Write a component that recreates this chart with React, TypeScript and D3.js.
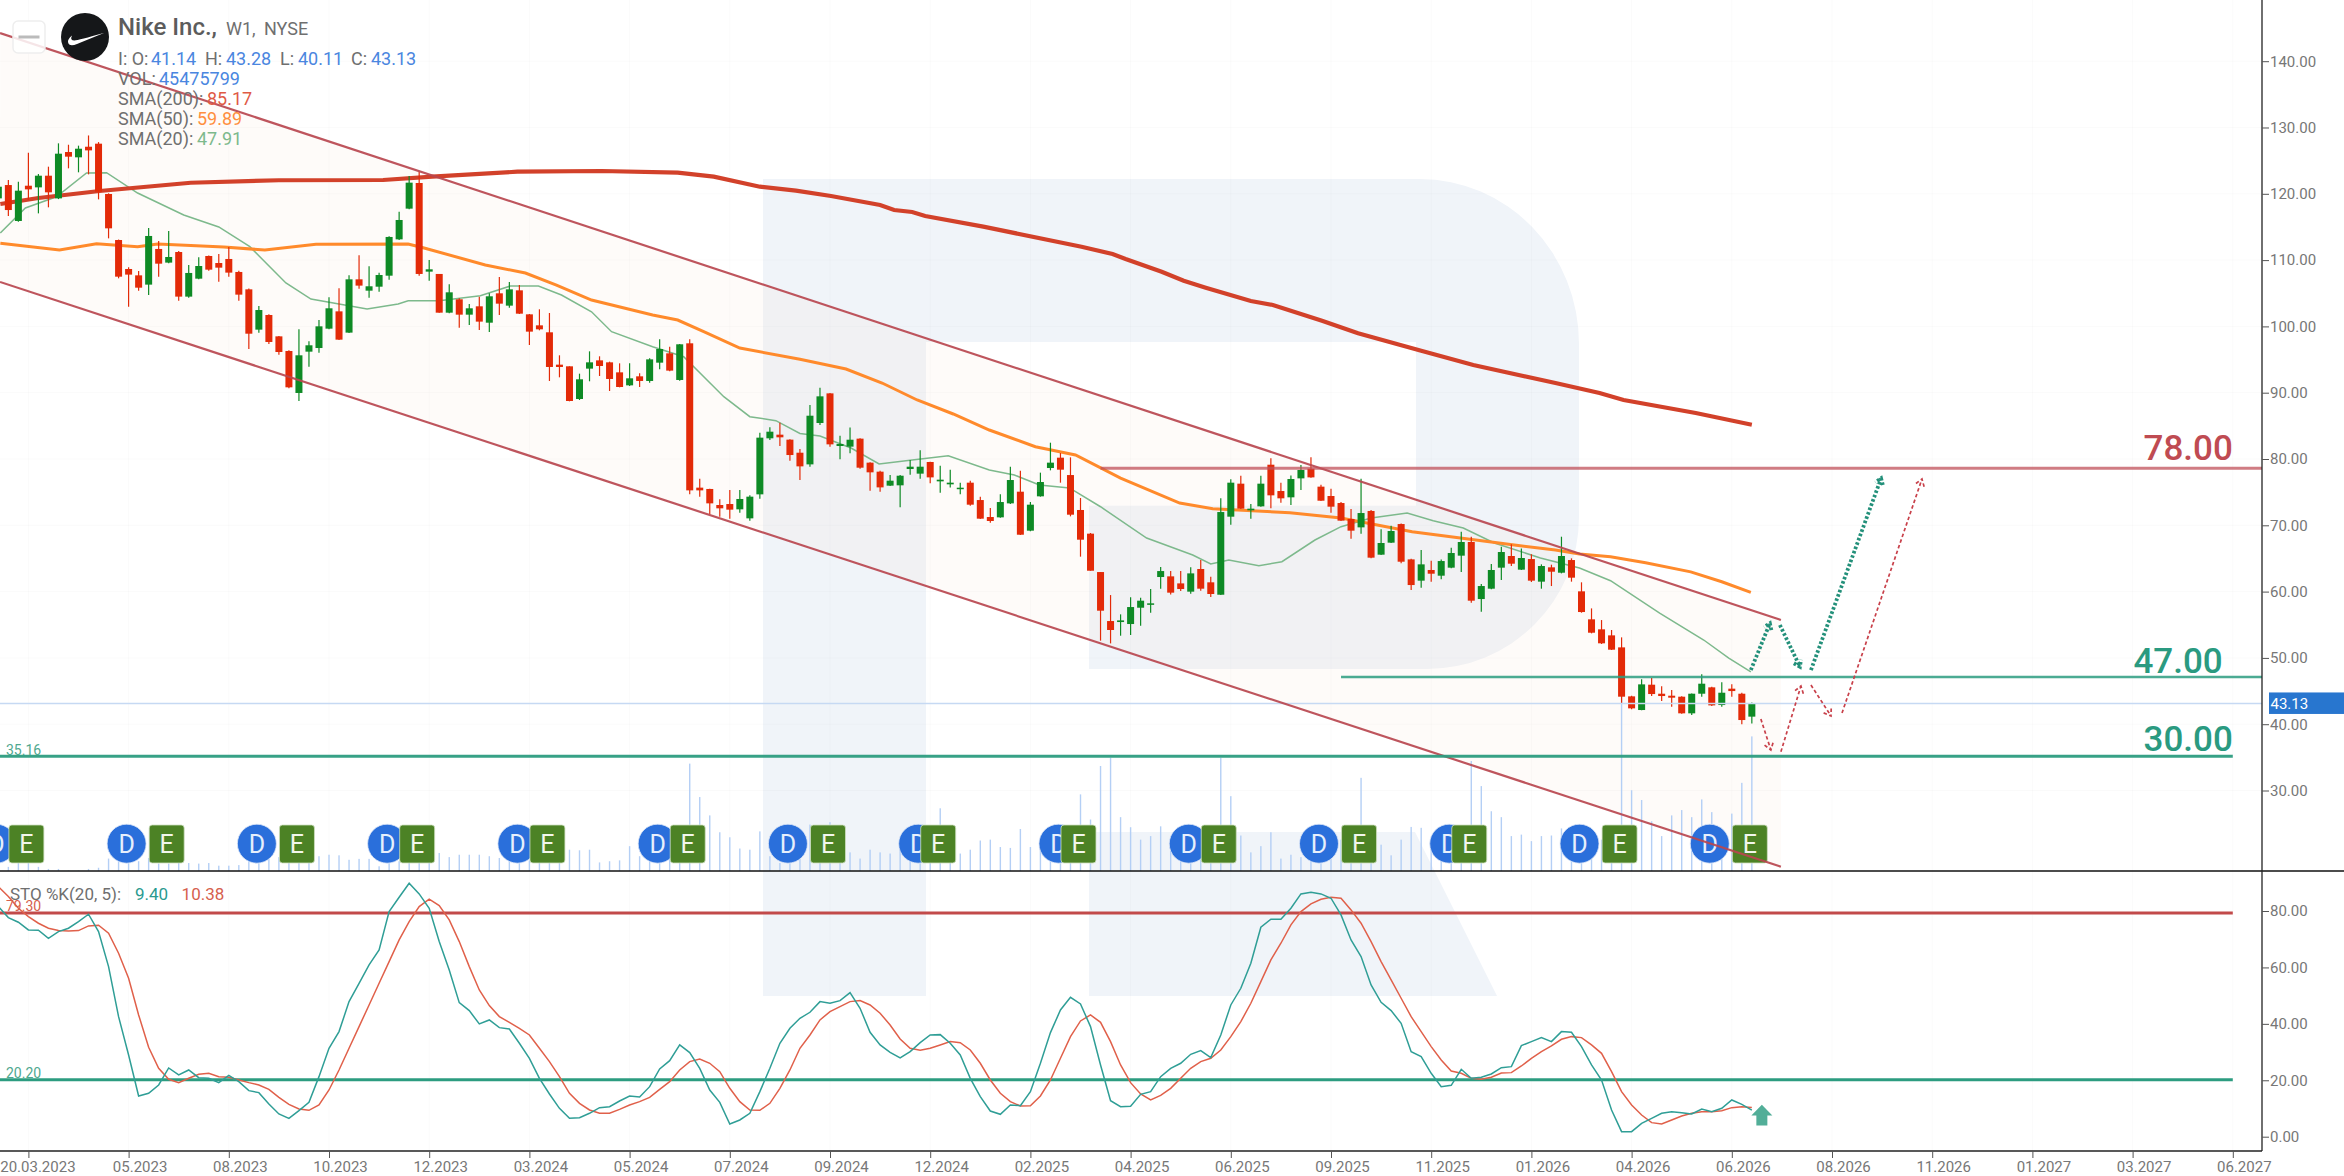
import React, { useEffect, useRef } from 'react';
import * as d3 from 'd3';

// first candle in the arrays sits three bars left of the 20.03.2023 tick
const firstBar = -3;

const opens = [
  119.31,121.32,115.9,121.22,120.97,122.73,119.31,126.3,125.5,127.1,127.56,119.97,113.03,
  108.66,107.7,106.3,111.68,109.62,111.22,104.49,107.2,110.62,109.56,110.17,108.21,105.59,99.51,101.72,98.5,96.29,89.96,96.19,96.74,99.66,102.27,99.06,107.1,105.39,105.99,107.65,113.13,117.76,121.63,
  108.26,107.91,102.07,104.09,101.77,103.03,100.56,104.99,103.13,105.44,
  101.82,100.16,99.11,94.23,93.98,89.05,93.63,94.88,94.58,93.07,
  91.11,92.47,91.77,94.53,95.94,91.92,97.45,75.68,75.48,73.06,
  73.21,72.41,71.05,74.67,83.12,83.67,82.92,80.95,79.19,85.43,
  89.9,81.96,81.86,83.07,79.45,78.09,75.98,76.03,78.49,77.79,
  79.55,76.63,76.18,75.57,76.43,73.81,71.25,71.2,73.31,75.07,
  69.19,74.37,78.64,80.2,77.58,72.31,68.74,62.95,55.56,55.41,
  55.11,57.57,58.03,62.2,62.3,61.24,59.99,63.41,61.4,59.53,
  71.3,76.28,72.26,72.86,79.14,75.17,74.22,77.08,78.54,75.83,
  74.42,73.36,70.95,69.69,72.16,65.57,67.38,70.19,64.86,61.65,
  63.26,62.4,63.61,65.42,67.48,58.88,60.44,63.61,65.37,63.31,
  64.91,61.5,63.66,62.85,64.76,60.04,55.82,54.31,53.4,51.59,
  44.2,42.14,45.96,44.6,44.3,44.15,41.64,44.6,45.56,42.89,
  45.36,44.6,41.14,
];

const highs = [
  122.08,122.08,121.83,126.2,122.98,124.09,127.61,127.4,127.26,128.8,127.8,120.07,113.1,
  108.91,108.36,114.84,112.88,114.39,111.37,109.26,110.42,110.7,110.92,111.98,108.41,105.7,103.08,101.82,98.55,96.39,99.56,97.75,100.97,104.39,105.74,107.7,110.72,109.06,108.11,113.59,117.31,122.69,123.34,
  110.02,107.91,106.35,104.24,103.38,104.49,104.99,107.45,106.7,106.25,
  101.87,102.58,102.02,95.64,93.98,92.87,96.24,95.49,94.68,94.43,
  94.43,92.92,95.18,98.05,96.94,97.35,98.05,77.03,75.53,73.92,
  75.33,75.33,74.52,83.97,84.78,85.48,82.97,81.5,88.14,90.76,
  89.95,83.52,84.77,83.12,79.5,78.24,77.59,77.59,79.85,81.31,
  79.6,78.99,78.39,76.43,76.73,74.32,72.61,74.67,78.84,78.24,
  73.51,77.94,82.46,80.9,80.25,74.12,68.84,62.95,59.48,56.57,
  59.13,59.08,60.39,63.71,63.1,63.1,63.66,64.76,62.25,74.07,
  76.93,77.48,73.21,77.48,80.1,76.43,77.53,79.09,80.25,76.13,
  75.52,73.51,72.46,77.03,72.31,69.39,69.94,70.29,64.96,66.27,
  64.66,64.86,66.62,69.04,68.28,61.14,64.16,66.77,67.13,66.52,
  65.62,64.11,64.06,68.28,65.02,61.4,57.47,55.71,54.21,53.1,
  44.3,46.77,46.97,45.71,45.16,44.2,44.65,47.52,45.66,46.31,
  46.01,44.75,43.28,
];

const lows = [
  118.56,116.65,115.8,119.06,117.05,117.96,119.2,123.84,123.24,122.93,119.16,113.28,107.25,
  102.98,105.39,104.74,107.5,109.51,103.88,104.34,107.1,108.41,106.75,107.5,103.88,96.59,99.06,97.35,95.74,90.66,88.75,93.93,96.04,99.56,97.95,99.01,105.69,104.34,105.24,107.05,113.03,117.66,107.65,
  106.9,102.07,101.97,99.81,100.21,99.46,99.16,101.72,102.83,101.87,
  97.2,99.41,91.77,92.32,88.7,88.9,91.72,92.52,90.26,90.81,
  91.01,90.86,91.51,93.53,93.22,91.82,74.67,74.32,71.7,71.3,
  71.0,71.9,70.7,74.02,82.87,81.96,79.75,76.83,78.84,85.13,
  81.86,79.95,80.85,78.54,75.22,75.07,75.93,72.71,77.64,77.03,
  76.33,74.92,75.72,74.67,72.96,70.95,70.39,71.15,73.21,68.53,
  69.09,74.32,78.29,76.43,71.35,65.27,63.15,52.6,52.19,53.35,
  53.45,54.86,56.82,60.44,59.58,60.09,59.68,60.14,59.18,59.48,
  70.09,72.46,71.0,72.81,72.56,73.41,73.06,75.32,77.18,73.66,
  71.9,70.65,67.98,68.74,65.02,65.52,67.33,64.26,60.24,60.59,
  61.5,61.85,63.51,62.95,58.33,56.97,60.34,61.75,63.86,63.26,
  61.45,60.44,60.84,62.75,61.5,56.82,53.7,52.1,51.19,43.15,
  42.24,42.09,44.25,43.5,42.64,41.59,41.39,44.15,42.74,42.64,
  44.15,39.98,40.11,
];

const closes = [
  121.07,117.55,120.47,120.67,122.73,120.22,126.05,125.6,126.8,126.55,120.32,114.79,107.5,
  107.81,105.84,113.64,109.46,110.47,104.49,108.06,109.11,108.56,108.86,108.11,104.79,98.9,102.47,97.65,96.14,90.81,95.64,97.15,100.01,102.73,98.0,107.1,106.15,106.05,107.75,113.49,116.05,121.68,107.91,
  108.61,102.07,105.14,101.77,102.73,100.72,104.54,103.43,105.59,101.92,
  99.21,99.56,93.88,93.88,88.75,92.02,94.58,94.03,92.07,90.86,
  92.17,91.77,95.03,96.59,93.33,97.3,75.27,75.27,73.31,72.56,
  72.36,73.97,74.32,83.22,84.12,83.27,80.6,78.89,86.53,89.45,
  82.21,82.26,82.91,78.69,77.99,75.72,76.73,77.48,78.84,78.84,
  77.23,76.88,76.43,75.67,73.11,71.0,70.65,73.51,76.83,68.58,
  73.11,76.53,79.45,78.39,71.6,67.83,63.15,57.12,54.21,55.66,
  57.67,58.63,58.23,63.1,59.84,60.39,62.75,60.44,59.64,72.0,
  76.43,72.51,72.51,76.28,74.52,74.07,76.98,78.34,77.23,73.71,
  72.81,70.7,69.19,71.85,65.12,67.33,69.14,64.51,60.99,64.11,
  62.7,64.61,65.82,67.48,58.63,60.84,63.26,65.97,64.21,65.07,
  61.65,63.86,63.0,65.37,62.1,56.92,53.8,52.2,51.24,44.15,
  42.39,46.01,44.55,44.25,44.0,41.64,44.6,46.11,42.84,44.75,
  45.0,40.63,43.13,
];

// volume in millions of shares
const volumes = [
  1.6,1.4,2.7,2.9,1.4,0.7,0.7,0.2,0.2,0.7,1.1,4.2,3.8,
  3.3,3.3,4.4,2.5,2.5,2.7,2.7,2.5,2.7,1.8,1.8,2.0,3.3,3.8,4.7,4.7,3.8,5.2,4.7,5.0,5.5,5.3,3.8,4.1,4.1,1.6,3.8,3.3,3.3,3.3,
  5.0,6.1,4.7,5.5,5.5,5.5,5.0,4.4,3.8,3.8,
  3.6,3.6,3.8,4.4,7.2,7.0,7.2,2.9,3.3,3.6,
  8.4,5.0,6.1,5.5,5.5,13.4,36.3,25.0,18.8,13.1,
  11.4,7.6,7.2,13.4,5.0,2.7,2.7,6.1,15.7,10.6,
  16.5,10.6,6.3,4.2,7.2,6.3,5.9,10.6,10.6,12.9,
  10.6,21.2,6.1,5.9,7.2,10.3,10.6,8.1,7.8,14.2,
  8.1,10.6,11.8,11.8,15.1,25.9,17.4,35.5,38.3,18.2,
  14.8,10.6,11.8,15.1,10.6,9.5,10.6,10.6,10.6,38.3,
  25.3,12.0,6.3,8.4,13.1,4.2,5.5,4.7,8.4,9.5,
  6.1,10.6,11.8,31.5,14.0,8.9,5.3,10.6,14.9,14.6,
  10.6,10.6,10.6,12.9,37.2,28.7,20.2,18.2,11.8,12.3,
  10.1,11.8,12.0,14.4,10.6,8.4,7.2,10.6,10.6,61.4,
  27.3,24.0,16.8,11.8,18.8,20.6,18.2,24.2,19.9,14.0,
  19.4,29.8,45.5,
];

const stoK = [
  81.57,77.67,76.01,73.3,73.18,70.34,72.71,73.89,76.25,78.85,72.71,60.29,42.56,
  28.97,14.43,15.38,18.33,24.36,21.88,23.65,20.93,20.7,19.16,21.76,19.52,16.32,15.62,11.6,8.05,6.51,9.23,12.18,21.29,31.34,37.25,47.88,54.38,60.89,66.2,79.8,84.88,89.84,86.06,
  80.98,69.16,59.11,47.53,44.69,39.96,41.38,38.66,38.19,33.11,
  27.79,20.7,15.14,10.06,6.51,6.75,8.29,10.3,10.65,12.66,
  14.43,14.08,17.74,24.01,26.96,32.52,29.8,24.24,16.56,12.18,
  4.5,5.92,8.29,15.97,24.24,33.11,38.43,41.97,44.1,47.88,
  47.29,48.24,51.07,45.52,37.01,32.52,29.92,27.91,30.15,33.34,
  36.06,36.18,33.11,28.97,20.7,14.2,9.11,7.93,11.24,11.0,
  15.97,26.02,36.89,44.93,49.42,47.06,39.02,25.43,12.78,10.65,
  10.77,15.02,15.97,21.29,24.24,26.02,29.21,30.51,28.03,36.06,
  46.7,52.61,61.48,74.24,77.08,77.08,80.98,86.06,86.65,86.06,
  84.53,78.62,69.75,63.84,53.79,47.65,44.69,40.2,30.15,28.38,
  22.47,17.74,18.22,23.89,20.7,21.05,22.23,24.48,24.83,32.28,
  33.7,35.12,33.7,37.25,37.01,31.93,25.43,20.11,9.47,1.79,
  1.79,4.74,6.51,8.29,8.88,8.52,8.05,9.82,8.88,10.06,
  13.02,11.47,9.4,
];

const stoD = [
  88.66,85.12,80.98,78.02,75.66,73.89,73.06,72.94,73.06,74.71,74.95,72.11,65.02,
  56.16,43.16,31.69,24.24,20.34,19.16,20.7,22.12,22.47,21.29,21.05,20.11,19.16,18.33,16.8,13.96,11.48,9.82,9.35,11.24,16.56,23.65,31.34,39.02,46.7,54.38,62.07,69.75,76.25,81.57,
  84.17,81.92,76.84,69.16,60.29,52.02,46.46,42.56,40.55,38.43,
  36.06,31.34,26.61,21.29,15.38,11.83,9.47,8.29,8.29,9.7,
  11.24,12.42,13.96,16.8,19.52,23.65,26.61,27.55,26.02,23.06,
  17.15,12.42,9.47,9.35,11.83,17.15,23.65,31.34,36.06,41.38,
  44.34,46.11,47.88,48.24,46.7,43.75,39.61,34.64,31.34,30.63,
  31.34,32.52,33.7,33.34,30.74,26.02,20.11,15.38,12.42,10.89,
  11.0,14.43,20.11,27.79,35.47,41.03,43.16,40.55,33.7,25.43,
  19.16,15.14,13.02,14.67,17.15,20.7,24.24,26.61,27.79,30.74,
  35.47,40.79,47.29,54.98,62.66,68.57,75.07,79.8,82.52,84.17,
  84.88,84.53,80.39,75.66,69.16,62.07,55.57,49.07,42.56,37.25,
  31.93,27.2,23.3,22.47,20.7,20.34,21.05,22.59,22.71,25.07,
  27.79,30.15,32.16,34.53,35.47,35.12,32.52,29.56,23.06,15.97,
  11.24,7.7,4.98,4.5,5.92,7.34,8.29,8.88,8.88,9.23,
  10.3,10.65,10.38,
];

// moving averages, read as [bar, value]
const sma200: [number, number][] = [
  [-2.8,118.46],[1,119.37],[7.1,120.42],[16.2,121.67],[25,122.04],[35.4,122.08],[40.3,122.58],[48.8,123.33],[57.2,123.44],[64.8,123.18],
  [68.4,122.58],[73,121.07],[76.6,120.47],[80.1,119.67],[85,118.31],[86.4,117.56],[88.2,117.25],[89.5,116.65],[95.3,115.04],[105.1,112.02],
  [108.2,110.92],[109.5,110.17],[113.1,108.25],[115.3,106.89],[117.5,105.84],[122,103.83],[124.2,103.23],[129.1,100.86],[132.7,98.98],[139,96.33],
  [144.2,94.18],[152.4,91.46],[156.8,89.95],[159.2,88.9],[166.4,86.94],[172,85.17],
];

const sma50: [number, number][] = [
  [-2.8,112.53],[3.1,111.52],[6.8,112.47],[10.9,112.02],[12.9,112.43],[19.5,111.97],[23.6,111.52],[28.7,112.38],[37.9,112.43],[39.4,111.87],
  [45.6,109.26],[49.6,108.05],[52.7,106.24],[56.2,103.98],[62.3,101.72],[64.8,100.96],[67.4,99.2],[71,96.74],[77,95.04],[81.6,93.57],
  [85.2,91.46],[88.7,88.9],[92.3,86.79],[95.9,84.37],[100.5,81.85],[104.5,80.6],[109,77.13],[114.9,73.36],[118.2,72.5],[125.9,71.9],
  [131,71.1],[138.1,69.03],[148.3,67.03],[152.4,66.27],[154.8,65.67],[157.9,65.27],[161.4,64.36],[165.9,62.98],[169,61.49],[171.9,59.89],
];

const sma20: [number, number][] = [
  [-2.8,114.09],[-0.3,117.86],[2.8,119.56],[5.8,123.14],[7.8,123.18],[10.9,120.12],[15.5,116.8],[19,115],[22.1,112.02],[25.7,106.55],
  [28.2,104.13],[33.8,102.62],[36.9,103.38],[37.9,103.88],[41,103.88],[45.1,104.63],[48.1,106.09],[50.9,106.09],[53.2,104.74],[56.2,102.2],
  [58.2,99.2],[62.3,96.94],[65.4,95.43],[69.4,89.4],[72,86.38],[74.6,85.78],[77,83.85],[79,83.47],[82.1,81.66],[84.9,79.25],
  [88.2,79.85],[91.8,80.5],[95.9,78.34],[98.4,77.59],[100.9,76.08],[103.9,75.63],[107,72.8],[111.6,68.08],[116.2,65.52],[118,64.16],
  [119.8,64.76],[122.8,63.91],[125.1,64.51],[128.4,67.78],[131,69.79],[134,71.1],[137.6,71.85],[140.2,70.69],[143.2,69.59],[146.3,67.33],
  [150.9,65.07],[154.8,63.56],[157.9,61.64],[162.8,56.77],[167.2,52.7],[169.7,49.98],[171.9,47.91],
];

// channel as [bar, upper, lower]
const channelEnds: [number, number, number][] = [
  [-2.83, 144.25, 106.7],
  [174.9, 55.72, 18.51],
];

// forecast arrows, each one [bar, price] pairs
const tealArrows: [number, number][][] = [
  [[171.9,48.17],[173.8,55.22]],
  [[174.8,54.96],[176.8,48.67]],
  [[177.9,48.17],[184.9,77.09]],
];
const redArrows: [number, number][][] = [
  [[172.9,40.78],[173.9,36.11]],
  [[174.9,35.85],[176.9,45.76]],
  [[177.9,45.91],[179.9,41.24]],
  [[181,41.69],[188.98,76.98]],
];

const dividendBars = [-3, 10, 23, 36, 49, 63, 76, 89, 103, 116, 129, 142, 155, 168];
const earningsBars = [0, 14, 27, 39, 52, 66, 80, 91, 105, 119, 133, 144, 159, 172];

const dateTicks = [
  '20.03.2023','05.2023','08.2023','10.2023','12.2023','03.2024','05.2024','07.2024','09.2024','12.2024','02.2025','04.2025',
  '06.2025','09.2025','11.2025','01.2026','04.2026','06.2026','08.2026','11.2026','01.2027','03.2027','06.2027',
];
const priceTicks = [30, 40, 50, 60, 70, 80, 90, 100, 110, 120, 130, 140];
const stoTicks = [0, 20, 40, 60, 80];

const W = 2344;
const H = 1176;
const axisX = 2262;
const paneBottom = 871;
const timeBottom = 1151;
const RED = '#e32a08';
const GREEN = '#0e8a25';
const font = 'Roboto, sans-serif';

const App: React.FC = () => {
  const ref = useRef<SVGSVGElement | null>(null);

  useEffect(() => {
    const svg = d3.select(ref.current);
    svg.selectAll('*').remove();

    const x = d3.scaleLinear().domain([0, 220]).range([28.4, 2232.8]);
    const y = d3.scaleLinear().domain([149.23, 17.86]).range([0, paneBottom]);
    const yVol = d3.scaleLinear().domain([0, 45.5]).range([paneBottom, 736.4]);
    const ySto = d3.scaleLinear().domain([0, 80]).range([1136.7, 911]);

    svg.append('rect').attr('width', W).attr('height', H).attr('fill', '#fff');

    // watermark
    svg.append('path')
      .attr('fill', '#f0f4f9')
      .attr('d', 'M763,179 H1420 A159,165 0 0 1 1579,344 V517 A152,152 0 0 1 1427,669 H1089 V505.7 H1416 V342 H926 V996 H763 Z M1089,832 H1415 L1497,996 H1089 Z');

    // faint grid
    const grid = svg.append('g').attr('stroke', 'rgba(0,0,0,0.018)').attr('stroke-width', 1);
    dateTicks.forEach((_, i) => {
      grid.append('line').attr('x1', x(i * 10)).attr('x2', x(i * 10)).attr('y1', 0).attr('y2', timeBottom);
    });
    priceTicks.forEach(v => {
      grid.append('line').attr('x1', 0).attr('x2', axisX).attr('y1', y(v)).attr('y2', y(v));
    });

    // channel fill
    svg.append('path')
      .datum(channelEnds)
      .attr('fill', 'rgba(245,228,215,0.14)')
      .attr('d', d3.area<[number, number, number]>()
        .x(d => x(d[0]))
        .y0(d => y(d[2]))
        .y1(d => y(d[1])));

    // volume
    svg.append('g').selectAll('rect').data(volumes).join('rect')
      .attr('x', (_, i) => x(i + firstBar) - 0.7)
      .attr('width', 1.4)
      .attr('y', d => yVol(d))
      .attr('height', d => paneBottom - yVol(d))
      .attr('fill', '#b4cff5');

    // moving averages
    const maLine = d3.line<[number, number]>().x(d => x(d[0])).y(d => y(d[1]));
    svg.append('path').datum(sma20).attr('fill', 'none').attr('stroke', '#7db98c').attr('stroke-width', 1.5).attr('d', maLine);
    svg.append('path').datum(sma50).attr('fill', 'none').attr('stroke', '#ff8a2b').attr('stroke-width', 3).attr('d', maLine);
    svg.append('path').datum(sma200).attr('fill', 'none').attr('stroke', '#d2412a').attr('stroke-width', 4.2).attr('d', maLine);

    // candles
    const candles = svg.append('g');
    opens.forEach((o, i) => {
      const c = closes[i];
      const color = c >= o ? GREEN : RED;
      const cx = x(i + firstBar);
      candles.append('line')
        .attr('x1', cx).attr('x2', cx)
        .attr('y1', y(highs[i])).attr('y2', y(lows[i]))
        .attr('stroke', color).attr('stroke-width', 1.2);
      candles.append('rect')
        .attr('x', cx - 3.5).attr('width', 7)
        .attr('y', y(Math.max(o, c)))
        .attr('height', Math.max(1.5, Math.abs(y(o) - y(c))))
        .attr('fill', color);
    });

    // current price line
    svg.append('line')
      .attr('x1', 0).attr('x2', axisX)
      .attr('y1', y(43.13)).attr('y2', y(43.13))
      .attr('stroke', '#c6d9f3').attr('stroke-width', 1.5);

    // dividend and earnings badges
    const badgeY = 843.7;
    dividendBars.forEach(b => {
      svg.append('circle')
        .attr('cx', x(b) - 2).attr('cy', badgeY).attr('r', 19.5)
        .attr('fill', '#2a6fdb').attr('stroke', '#dfe9f8').attr('stroke-width', 0.8);
      svg.append('text')
        .attr('x', x(b) - 2).attr('y', badgeY + 8.8)
        .attr('text-anchor', 'middle')
        .attr('font-family', font).attr('font-size', 25).attr('fill', '#e6effc')
        .text('D');
    });
    earningsBars.forEach(b => {
      svg.append('rect')
        .attr('x', x(b) - 19.5).attr('y', 825).attr('width', 35).attr('height', 38).attr('rx', 3)
        .attr('fill', '#4c8225').attr('stroke', '#cfe0c2').attr('stroke-width', 0.8);
      svg.append('text')
        .attr('x', x(b) - 2).attr('y', badgeY + 8.8)
        .attr('text-anchor', 'middle')
        .attr('font-family', font).attr('font-size', 25).attr('fill', '#f1f6ec')
        .text('E');
    });

    // channel lines
    [1, 2].forEach(col => {
      svg.append('line')
        .attr('x1', x(channelEnds[0][0])).attr('y1', y(channelEnds[0][col]))
        .attr('x2', x(channelEnds[1][0])).attr('y2', y(channelEnds[1][col]))
        .attr('stroke', '#b9474f').attr('stroke-opacity', 0.92).attr('stroke-width', 2.2);
    });

    // horizontal levels
    const level = (x1: number, x2: number, yy: number, color: string, w: number, op = 1) => {
      svg.append('line')
        .attr('x1', x1).attr('x2', x2).attr('y1', yy).attr('y2', yy)
        .attr('stroke', color).attr('stroke-width', w).attr('stroke-opacity', op);
    };
    level(x(107), axisX, y(78.6), '#c0505a', 3, 0.75);
    level(x(131), axisX, y(47.12), '#2c9c80', 2.4, 0.85);
    level(0, x(220), y(35.16), '#2c9c80', 3, 0.95);
    level(0, x(220), ySto(79.3), '#c24a4a', 3);
    level(0, x(220), ySto(20.2), '#2c9c80', 3);

    // forecast arrows
    const drawArrow = (pts: [number, number][], color: string, w: number, dash: string, headLen: number) => {
      const px = pts.map(p => [x(p[0]), y(p[1])]);
      const [a, b] = [px[0], px[1]];
      const ang = Math.atan2(b[1] - a[1], b[0] - a[0]);
      const head = [-0.6, 0.6].map(t => [b[0] - headLen * Math.cos(ang + t), b[1] - headLen * Math.sin(ang + t)]);
      const d = `M${a[0]},${a[1]} L${b[0]},${b[1]} M${head[0][0]},${head[0][1]} L${b[0]},${b[1]} L${head[1][0]},${head[1][1]}`;
      svg.append('path').attr('d', d).attr('fill', 'none')
        .attr('stroke', color).attr('stroke-width', w).attr('stroke-dasharray', dash);
    };
    tealArrows.forEach(a => drawArrow(a, '#23907a', 3.8, '2.6 2', 7));
    redArrows.forEach(a => drawArrow(a, '#c8404a', 1.7, '3.5 2.5', 8));

    // stochastic
    const stoLine = d3.line<number>().x((_, i) => x(i + firstBar)).y(d => ySto(d));
    svg.append('path').datum(stoD).attr('fill', 'none').attr('stroke', '#e0604a').attr('stroke-width', 1.5).attr('d', stoLine);
    svg.append('path').datum(stoK).attr('fill', 'none').attr('stroke', '#2f9e96').attr('stroke-width', 1.5).attr('d', stoLine);

    // signal arrow under the stochastic end
    const ax = x(173);
    const ay = ySto(11.3);
    svg.append('path')
      .attr('fill', '#52ae98')
      .attr('d', `M${ax},${ay} l10.5,10.7 h-5 v10 h-11 v-10 h-5 Z`);

    // panes frame
    svg.append('line').attr('x1', 0).attr('x2', W).attr('y1', paneBottom).attr('y2', paneBottom).attr('stroke', '#111').attr('stroke-width', 1.3);
    svg.append('line').attr('x1', 0).attr('x2', axisX).attr('y1', timeBottom).attr('y2', timeBottom).attr('stroke', '#222').attr('stroke-width', 1.3);
    svg.append('line').attr('x1', axisX).attr('x2', axisX).attr('y1', 0).attr('y2', timeBottom).attr('stroke', '#222').attr('stroke-width', 1.3);

    // axes
    const styleAxis = (g: d3.Selection<SVGGElement, unknown, null, undefined>) => {
      g.select('.domain').remove();
      g.selectAll('line').attr('stroke', '#555');
      g.selectAll('text').attr('fill', '#777').attr('font-family', font).attr('font-size', 15);
    };
    const priceAxis = svg.append('g').attr('transform', `translate(${axisX},0)`)
      .call(d3.axisRight(y).tickValues(priceTicks).tickFormat(d3.format('.2f')).tickSize(7).tickPadding(1));
    styleAxis(priceAxis as any);
    const stoAxis = svg.append('g').attr('transform', `translate(${axisX},0)`)
      .call(d3.axisRight(ySto).tickValues(stoTicks).tickFormat(d3.format('.2f')).tickSize(7).tickPadding(1));
    styleAxis(stoAxis as any);
    const timeAxis = svg.append('g').attr('transform', `translate(0,${timeBottom})`)
      .call(d3.axisBottom(x)
        .tickValues(dateTicks.map((_, i) => i * 10))
        .tickFormat((d: any) => dateTicks[d / 10])
        .tickSize(7).tickPadding(3));
    styleAxis(timeAxis as any);
    timeAxis.selectAll('text').attr('dx', (_, i) => (i === 0 ? 9 : 11));

    // last price tag
    svg.append('rect').attr('x', 2269).attr('y', y(43.13) - 11).attr('width', 75).attr('height', 21.5).attr('fill', '#2876cf');
    svg.append('text').attr('x', 2270.5).attr('y', y(43.13) + 5.3)
      .attr('font-family', font).attr('font-size', 15).attr('fill', '#fff').text('43.13');

    // big level labels
    const bigLabel = (txt: string, bar: number, yy: number, color: string) => {
      svg.append('text').attr('x', x(bar)).attr('y', yy)
        .attr('text-anchor', 'end')
        .attr('font-family', font).attr('font-size', 35).attr('font-weight', 500).attr('fill', color)
        .text(txt);
    };
    bigLabel('78.00', 220, y(78.6) - 8, '#bf4b52');
    bigLabel('47.00', 219, y(47.12) - 4.3, '#2a9a80');
    bigLabel('30.00', 220, y(35.16) - 5.3, '#2a9a80');

    // small level labels
    const smallLabel = (txt: string, yy: number, color: string) => {
      svg.append('text').attr('x', 6).attr('y', yy)
        .attr('font-family', font).attr('font-size', 14).attr('fill', color).text(txt);
    };
    smallLabel('35.16', y(35.16) - 1.5, '#4fa88f');
    smallLabel('79.30', ySto(79.3) - 2, '#d6604d');
    smallLabel('20.20', ySto(20.2) - 2, '#4fa88f');

    // logo and collapse button
    svg.append('rect').attr('x', 13).attr('y', 21).attr('width', 32).attr('height', 32).attr('rx', 5)
      .attr('fill', '#fff').attr('fill-opacity', 0.85).attr('stroke', '#eee').attr('stroke-width', 1.5);
    svg.append('line').attr('x1', 18.5).attr('x2', 39.5).attr('y1', 37).attr('y2', 37).attr('stroke', '#bbb').attr('stroke-width', 3);
    svg.append('circle').attr('cx', 85).attr('cy', 37).attr('r', 24).attr('fill', '#151719');
    svg.append('path').attr('fill', '#fff')
      .attr('d', 'M104.5,32.7 L77,44 Q69,47.2 68,42 Q67.6,39 72,35.4 Q69.6,40.4 74.5,40.4 Q78,40.4 104.5,32.7 Z');

    // legend
    const legend = (parts: [string, number, string, number?, number?][], yy: number) => {
      parts.forEach(([t, px, color, size, weight]) => {
        svg.append('text').attr('x', px).attr('y', yy)
          .attr('font-family', font).attr('font-size', size ?? 18).attr('font-weight', weight ?? 400)
          .attr('fill', color).text(t);
      });
    };
    const grey = '#6f6f6f';
    const blue = '#4a86e0';
    legend([['Nike Inc.,', 118, '#5c5c5c', 24, 500], ['W1,', 226, grey, 18], ['NYSE', 264, grey, 18]], 35);
    legend([['I: O:', 118, grey], ['41.14', 151, blue], ['H:', 205, grey], ['43.28', 226, blue], ['L:', 280, grey], ['40.11', 298, blue], ['C:', 351, grey], ['43.13', 371, blue]], 65);
    legend([['VOL:', 118, grey], ['45475799', 159, blue]], 85);
    legend([['SMA(200):', 118, grey], ['85.17', 207, '#df5a45']], 105);
    legend([['SMA(50):', 118, grey], ['59.89', 197, '#ff8f3f']], 125);
    legend([['SMA(20):', 118, grey], ['47.91', 197, '#7db98c']], 145);
    legend([['STO %K(20, 5):', 10, grey, 17], ['9.40', 135, '#2a9a90', 17], ['10.38', 181.6, '#d6604d', 17]], 900);
  }, []);

  return <svg ref={ref} width={W} height={H} style={{ position: 'absolute', left: 0, top: 0 }}></svg>;
};

export default App;
